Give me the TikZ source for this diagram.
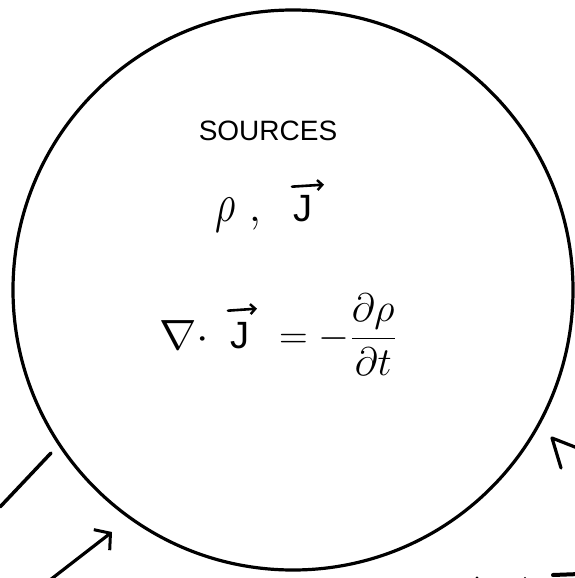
\documentclass[tikz,border=0pt]{standalone}
\usepackage{fontspec}
\setmainfont{Liberation Sans}
\usetikzlibrary{arrows.meta}
\begin{document}
\begin{tikzpicture}[x=1pt,y=-1pt,
  ink/.style={line width=3.2pt,line cap=round,line join=round,black},
  barb/.style={ink,-{Straight Barb[length=11pt,width=26pt,line width=3pt]}},
  vecbar/.style={line width=2.6pt,line cap=round,black,-{Straight Barb[length=5pt,width=10pt,line width=2.4pt]}},
  lbl/.style={inner sep=0pt},
  bigJ/.style={lbl,anchor=base,font=\fontsize{38}{42}\selectfont}]
\useasboundingbox (0,0) rectangle (574,578);
% the sources region
\node[ink,draw,circle,minimum size=560pt,inner sep=0pt] (src) at (293,290) {};
% title
\node[lbl,font=\fontsize{28}{32}\selectfont] (title) at (268,131) {SOURCES};
% rho, J
\node[lbl,anchor=base,font=\Huge] (rho) at (226,221) {\scalebox{1.6}[2.2]{$\rho$}};
\node[lbl,anchor=base,font=\Huge] (comma) at (255,221) {\scalebox{1.8}{$,$}};
\node[bigJ] (jq) at (303,221) {J};
\draw[vecbar] ([xshift=-11pt,yshift=8pt]jq.north) -- ([xshift=21pt,yshift=10pt]jq.north);
% div J = - d rho / dt
\node[lbl,anchor=base east,font=\Huge] (nab) at (209,349) {\scalebox{1.8}[1.7]{$\nabla\cdot$}};
\node[bigJ] (jeq) at (240,348) {J};
\draw[vecbar] ([xshift=-12pt,yshift=11pt]jeq.north) -- ([xshift=17pt,yshift=13pt]jeq.north);
\node[lbl,anchor=base west,font=\Huge] (rhs) at (279,348) {\scalebox{1.6}{$\displaystyle =-\frac{\partial\rho}{\partial t}$}};
% outside strokes
\coordinate (l1a) at (0,507);
\coordinate (l1b) at (51,453);
\draw[ink,line width=3.5pt] (l1a) -- (l1b);
\coordinate (a2s) at (50,580);
\coordinate (a2t) at (112,532);
\draw[barb] (a2s) -- (a2t);
\coordinate (a3t) at (552,438);
\draw[ink] (561,468) -- (a3t) -- (580,449);
% cut-off marks at the bottom edge
\draw[ink,line width=4pt] (553,575) -- (580,574);
\fill (477,578) circle (1.6pt);
\fill (525,578) circle (1.2pt);
\end{tikzpicture}
\end{document}
